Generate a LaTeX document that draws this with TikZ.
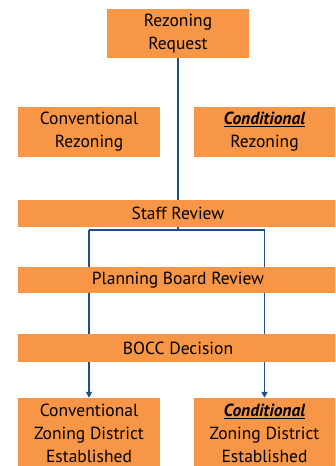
\documentclass[tikz,border=0pt]{standalone}
\usepackage{fontspec}
\setmainfont{PT Sans}
\usetikzlibrary{positioning,backgrounds,arrows.meta}

\definecolor{boxorange}{HTML}{F79646}
\definecolor{linkblue}{HTML}{1F4E89}

\tikzset{
  box/.style={fill=boxorange, text=black, align=center, inner sep=0pt,
    font=\fontsize{17.5}{23}\selectfont},
  bar/.style={box, minimum width=320pt, minimum height=27pt},
  link/.style={draw=linkblue, line width=1.8pt},
  arrowlink/.style={link, -{Triangle[length=6pt, width=6pt]}},
}
\newcommand{\condword}{\underline{\textbf{\textit{Conditional}}}}

\begin{document}
\begin{tikzpicture}[x=1pt, y=-1pt]
  \useasboundingbox (0,0) rectangle (335,466);
  \clip (0,0) rectangle (335,466);

  % top request
  \node[box, minimum width=142pt, minimum height=49pt] (req) at (178,33.5) {Rezoning\\Request};

  % the two kinds of rezoning
  \node[box, minimum width=142pt, minimum height=50pt] (conv) at (89,132) {Conventional\\Rezoning};
  \node[box, minimum width=141pt, minimum height=50pt] (cond) at (264.5,132) {\condword\\Rezoning};

  % review steps
  \node[bar] (staff) at (178,213.5) {Staff Review};
  \node[bar, minimum height=26pt] (plan) at (178,280) {Planning Board Review};
  \node[bar, minimum height=28pt] (bocc) at (178,348) {BOCC Decision};

  % results
  \node[box, minimum width=142pt, minimum height=70pt] (convres) at (89,433) {Conventional\\Zoning District\\Established};
  \node[box, minimum width=141pt, minimum height=70pt] (condres) at (264.5,433) {\condword\\Zoning District\\Established};

  \begin{pgfonlayer}{background}
    \draw[link] (req.south) -- (staff.north);
    \coordinate (split) at ([yshift=-2.5pt]staff.south);
    \draw[link] (staff.south) -- (split);
    \draw[arrowlink] (split -| convres.north) -- (convres.north);
    \draw[arrowlink] (split -| condres.north) -- (condres.north);
    \draw[link] (split -| convres.north) -- (split -| condres.north);
  \end{pgfonlayer}
\end{tikzpicture}
\end{document}
